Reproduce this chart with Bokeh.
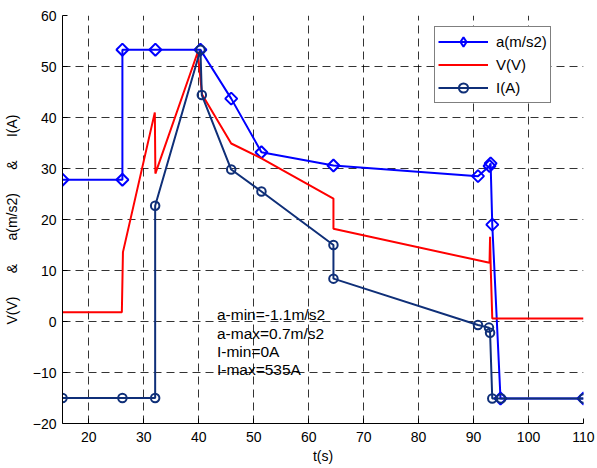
from bokeh.plotting import figure
from bokeh.models import Range1d, FixedTicker, Legend, LegendItem, ColumnDataSource
from bokeh.core.properties import value
from bokeh.embed import file_html
from bokeh.resources import INLINE

# ---- data ----
t_a = [15.2, 26.1, 26.1, 32.1, 40.3, 45.9, 51.4, 64.5, 90.8, 92.9, 93.1, 93.4, 94.9, 110.0]
a_vals = [27.8, 27.8, 53.3, 53.3, 53.3, 43.7, 33.2, 30.6, 28.5, 30.5, 31.0, 19.0, -15.1, -15.1]

t_v = [15.2, 26.0, 26.2, 32.0, 32.1, 39.8, 40.6, 45.9, 51.4, 64.5, 64.5, 92.9, 93.0, 93.1, 93.4, 110.0]
v_vals = [1.8, 1.8, 13.6, 41.0, 29.0, 52.8, 44.5, 34.9, 32.0, 24.1, 18.2, 11.5, 16.6, 11.3, 0.6, 0.6]

t_i = [15.2, 26.1, 32.06, 32.06, 40.3, 40.55, 45.9, 51.4, 64.5, 64.5, 90.8, 92.8, 93.0, 93.4, 95.0, 110.0]
i_vals = [-15.0, -15.0, -15.0, 22.7, 53.3, 44.4, 29.8, 25.5, 15.0, 8.4, -0.7, -1.2, -2.2, -15.1, -15.1, -15.1]

x_ticks = [20, 30, 40, 50, 60, 70, 80, 90, 100, 110]
y_ticks = [-20, -10, 0, 10, 20, 30, 40, 50, 60]

series_names = ["a(m/s2)", "V(V)", "I(A)"]
annot_lines = ["a-min=-1.1m/s2", "a-max=0.7m/s2", "I-min=0A", "I-max=535A"]
annot_x = 43.3
annot_y_top = 1.3
annot_step = 3.6

GAP = "\u00a0" * 6
x_label = "t(s)"
y_label = "V(V)" + GAP + "&" + GAP + "a(m/s2)" + GAP + "&" + GAP + "I(A)"

FONT = "Liberation Sans"
BLUE = "#0000ff"
RED = "#ff0000"
NAVY = "#0f2f78"

p = figure(width=597, height=468, output_backend="svg", toolbar_location=None, tools="",
           x_range=Range1d(15.2, 110), y_range=Range1d(-20, 60),
           min_border_left=62, min_border_right=14, min_border_top=15, min_border_bottom=45)
p.outline_line_color = None
p.background_fill_color = "white"
p.border_fill_color = "white"

for ax in (p.xaxis[0], p.yaxis[0]):
    ax.major_tick_in = 5
    ax.major_tick_out = 0
    ax.minor_tick_line_color = None
    ax.axis_line_color = "black"
    ax.major_tick_line_color = "black"
    ax.major_label_text_font = FONT
    ax.major_label_text_font_size = "14px"
    ax.major_label_text_color = "black"
    ax.axis_label_text_font = FONT
    ax.axis_label_text_font_size = "14px"
    ax.axis_label_text_font_style = "normal"
    ax.axis_label_text_color = "black"

p.xaxis.ticker = FixedTicker(ticks=x_ticks)
p.yaxis.ticker = FixedTicker(ticks=y_ticks)
p.xaxis.axis_label = x_label
p.yaxis.axis_label = y_label
p.xaxis.major_label_standoff = 8
p.yaxis.major_label_standoff = 6
p.xaxis.axis_label_standoff = 3
p.yaxis.axis_label_standoff = 10

for g in (p.xgrid[0], p.ygrid[0]):
    g.grid_line_color = "black"
    g.grid_line_alpha = 0.8
    g.grid_line_dash = "8 5"
    g.grid_line_width = 1

src_a = ColumnDataSource(dict(t=t_a, y=a_vals))
src_v = ColumnDataSource(dict(t=t_v, y=v_vals))
src_i = ColumnDataSource(dict(t=t_i, y=i_vals))

la = p.line("t", "y", source=src_a, line_color=BLUE, line_width=2)
ma = p.scatter("t", "y", source=src_a, marker="square", angle=0.785398, size=8.5,
               line_color=BLUE, line_width=2, fill_color=None)
lv = p.line("t", "y", source=src_v, line_color=RED, line_width=2)
li = p.line("t", "y", source=src_i, line_color=NAVY, line_width=2)
mi = p.scatter("t", "y", source=src_i, marker="circle", size=8.5,
               line_color=NAVY, line_width=2, fill_color=None)

# legend-only diamond (same series style), not drawn in the plot area
src_leg = ColumnDataSource(dict(t=[float("nan")], y=[float("nan")]))
ma_leg = p.scatter("t", "y", source=src_leg, marker="diamond", size=10,
                   line_color=BLUE, line_width=2, fill_color=None)

src_t = ColumnDataSource(dict(x=[annot_x] * len(annot_lines),
                              y=[annot_y_top - k * annot_step for k in range(len(annot_lines))],
                              text=annot_lines))
p.text("x", "y", text="text", source=src_t, text_font=value(FONT), text_font_size="15.5px",
       text_color="black", text_baseline="middle", text_align="left")

legend = Legend(items=[LegendItem(label=series_names[0], renderers=[la, ma_leg]),
                       LegendItem(label=series_names[1], renderers=[lv]),
                       LegendItem(label=series_names[2], renderers=[li, mi])],
                location=(372, 320))
legend.border_line_color = "black"
legend.border_line_width = 1
legend.background_fill_color = "white"
legend.background_fill_alpha = 1
legend.label_text_font = FONT
legend.label_text_font_size = "15px"
legend.label_text_color = "black"
legend.glyph_width = 50
legend.glyph_height = 23
legend.label_height = 23
legend.label_standoff = 8
legend.spacing = 0
legend.padding = 3
legend.margin = 0
p.add_layout(legend, "center")

open("out.html", "w").write(file_html(p, INLINE))
